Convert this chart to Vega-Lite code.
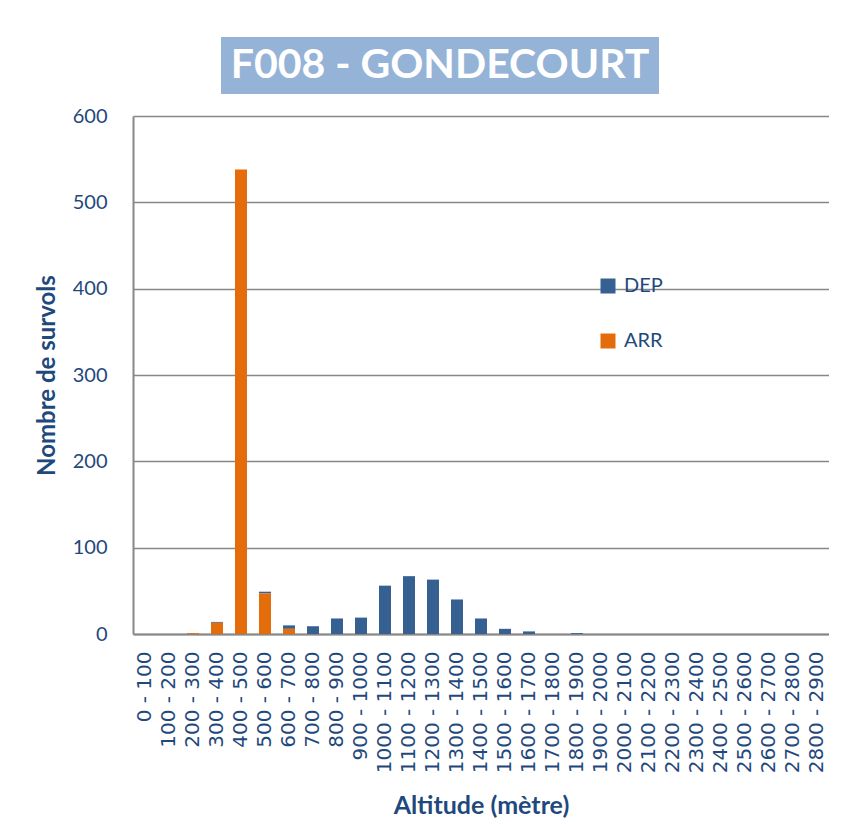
{
  "$schema": "https://vega.github.io/schema/vega-lite/v6.json",
  "padding": {"left": 35, "top": 37, "right": 0, "bottom": 0},
  "background": "white",
  "config": {"view": {"stroke": null}, "font": "Lato"},
  "spacing": 12,
  "center": true,
  "vconcat": [
    {
      "width": 438,
      "height": 57,
      "view": {"fill": "#95B3D7", "stroke": null},
      "data": {"values": [{"titre": "F008 - GONDECOURT"}]},
      "mark": {"type": "text", "font": "Lato", "fontWeight": "bold", "fontSize": 41, "color": "white", "baseline": "middle", "align": "center"},
      "encoding": {
        "text": {"field": "titre"},
        "y": {"field": "titre", "type": "nominal", "axis": {"orient": "right", "title": null, "labels": false, "ticks": false, "domain": false, "grid": false, "minExtent": 82, "maxExtent": 82}}
      }
    },
    {
      "width": 696,
      "height": 518,
      "data": {"values": [
        {"tranche": "0 - 100", "serie": "DEP", "survols": 0},
        {"tranche": "0 - 100", "serie": "ARR", "survols": 0},
        {"tranche": "100 - 200", "serie": "DEP", "survols": 0},
        {"tranche": "100 - 200", "serie": "ARR", "survols": 0},
        {"tranche": "200 - 300", "serie": "DEP", "survols": 0},
        {"tranche": "200 - 300", "serie": "ARR", "survols": 1},
        {"tranche": "300 - 400", "serie": "DEP", "survols": 1},
        {"tranche": "300 - 400", "serie": "ARR", "survols": 13},
        {"tranche": "400 - 500", "serie": "DEP", "survols": 0},
        {"tranche": "400 - 500", "serie": "ARR", "survols": 538},
        {"tranche": "500 - 600", "serie": "DEP", "survols": 2},
        {"tranche": "500 - 600", "serie": "ARR", "survols": 47},
        {"tranche": "600 - 700", "serie": "DEP", "survols": 4},
        {"tranche": "600 - 700", "serie": "ARR", "survols": 6},
        {"tranche": "700 - 800", "serie": "DEP", "survols": 9},
        {"tranche": "700 - 800", "serie": "ARR", "survols": 0},
        {"tranche": "800 - 900", "serie": "DEP", "survols": 18},
        {"tranche": "800 - 900", "serie": "ARR", "survols": 0},
        {"tranche": "900 - 1000", "serie": "DEP", "survols": 19},
        {"tranche": "900 - 1000", "serie": "ARR", "survols": 0},
        {"tranche": "1000 - 1100", "serie": "DEP", "survols": 56},
        {"tranche": "1000 - 1100", "serie": "ARR", "survols": 0},
        {"tranche": "1100 - 1200", "serie": "DEP", "survols": 67},
        {"tranche": "1100 - 1200", "serie": "ARR", "survols": 0},
        {"tranche": "1200 - 1300", "serie": "DEP", "survols": 63},
        {"tranche": "1200 - 1300", "serie": "ARR", "survols": 0},
        {"tranche": "1300 - 1400", "serie": "DEP", "survols": 40},
        {"tranche": "1300 - 1400", "serie": "ARR", "survols": 0},
        {"tranche": "1400 - 1500", "serie": "DEP", "survols": 18},
        {"tranche": "1400 - 1500", "serie": "ARR", "survols": 0},
        {"tranche": "1500 - 1600", "serie": "DEP", "survols": 6},
        {"tranche": "1500 - 1600", "serie": "ARR", "survols": 0},
        {"tranche": "1600 - 1700", "serie": "DEP", "survols": 3},
        {"tranche": "1600 - 1700", "serie": "ARR", "survols": 0},
        {"tranche": "1700 - 1800", "serie": "DEP", "survols": 0},
        {"tranche": "1700 - 1800", "serie": "ARR", "survols": 0},
        {"tranche": "1800 - 1900", "serie": "DEP", "survols": 1},
        {"tranche": "1800 - 1900", "serie": "ARR", "survols": 0},
        {"tranche": "1900 - 2000", "serie": "DEP", "survols": 0},
        {"tranche": "1900 - 2000", "serie": "ARR", "survols": 0},
        {"tranche": "2000 - 2100", "serie": "DEP", "survols": 0},
        {"tranche": "2000 - 2100", "serie": "ARR", "survols": 0},
        {"tranche": "2100 - 2200", "serie": "DEP", "survols": 0},
        {"tranche": "2100 - 2200", "serie": "ARR", "survols": 0},
        {"tranche": "2200 - 2300", "serie": "DEP", "survols": 0},
        {"tranche": "2200 - 2300", "serie": "ARR", "survols": 0},
        {"tranche": "2300 - 2400", "serie": "DEP", "survols": 0},
        {"tranche": "2300 - 2400", "serie": "ARR", "survols": 0},
        {"tranche": "2400 - 2500", "serie": "DEP", "survols": 0},
        {"tranche": "2400 - 2500", "serie": "ARR", "survols": 0},
        {"tranche": "2500 - 2600", "serie": "DEP", "survols": 0},
        {"tranche": "2500 - 2600", "serie": "ARR", "survols": 0},
        {"tranche": "2600 - 2700", "serie": "DEP", "survols": 0},
        {"tranche": "2600 - 2700", "serie": "ARR", "survols": 0},
        {"tranche": "2700 - 2800", "serie": "DEP", "survols": 0},
        {"tranche": "2700 - 2800", "serie": "ARR", "survols": 0},
        {"tranche": "2800 - 2900", "serie": "DEP", "survols": 0},
        {"tranche": "2800 - 2900", "serie": "ARR", "survols": 0}
      ]},
      "mark": {"type": "bar"},
      "encoding": {
        "x": {
          "field": "tranche",
          "type": "nominal",
          "sort": null,
          "scale": {"paddingInner": 0.5, "paddingOuter": 0.25},
          "axis": {
            "title": "Altitude (mètre)",
            "labelAngle": -90,
            "labelFont": "DejaVu Sans",
            "labelFontSize": 20,
            "labelColor": "#1F497D",
            "labelPadding": 17,
            "labelOverlap": false,
            "ticks": false,
            "domainColor": "#878787",
            "domainWidth": 2,
            "titleFont": "Lato",
            "titleFontSize": 25,
            "titleFontWeight": "bold",
            "titleColor": "#1F497D",
            "titlePadding": 21
          }
        },
        "y": {
          "field": "survols",
          "type": "quantitative",
          "scale": {"domain": [0, 600], "nice": false},
          "axis": {
            "title": "Nombre de survols",
            "values": [0, 100, 200, 300, 400, 500, 600],
            "labelFont": "Lato",
            "labelFontSize": 20,
            "labelColor": "#1F497D",
            "labelPadding": 26,
            "ticks": false,
            "domainColor": "#878787",
            "domainWidth": 2,
            "gridColor": "#878787",
            "gridWidth": 1.5,
            "titleFont": "Lato",
            "titleFontSize": 24,
            "titleFontWeight": "bold",
            "titleColor": "#1F497D",
            "titlePadding": 13
          }
        },
        "color": {
          "field": "serie",
          "type": "nominal",
          "scale": {"domain": ["DEP", "ARR"], "range": ["#376092", "#E46C0A"]},
          "legend": {
            "title": null,
            "orient": "none",
            "legendX": 465,
            "legendY": 239,
            "symbolType": "square",
            "symbolSize": 225,
            "symbolStrokeWidth": 0,
            "labelFont": "Lato",
            "labelFontSize": 20,
            "labelColor": "#1F497D",
            "labelOffset": 6,
            "rowPadding": 35,
            "padding": 0
          }
        },
        "order": {"field": "serie", "sort": "ascending"}
      }
    }
  ]
}
